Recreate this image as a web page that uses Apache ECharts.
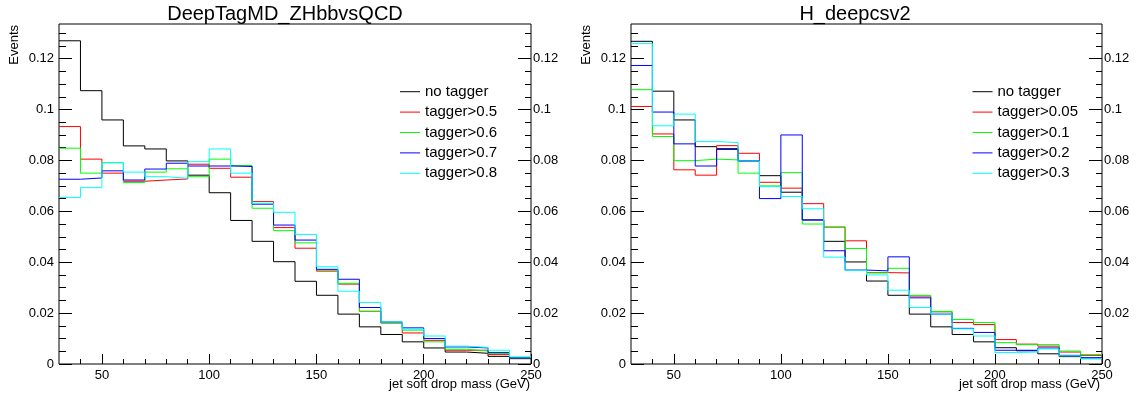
<!DOCTYPE html>
<html><head><meta charset="utf-8">
<script src="https://cdn.jsdelivr.net/npm/echarts@6/dist/echarts.min.js"></script>
<style>html,body{margin:0;padding:0;background:#fff}#c{width:1140px;height:394px}</style>
</head><body><div id="c"></div>
<script>
// ---- data ----
const binEdges = [30,40,50,60,70,80,90,100,110,120,130,140,150,160,170,180,190,200,210,220,230,240,250];

const titleLeft = 'DeepTagMD_ZHbbvsQCD';
const titleRight = 'H_deepcsv2';
const xTitle = 'jet soft drop mass (GeV)';
const yTitle = 'Events';

const namesLeft = ['no tagger','tagger>0.5','tagger>0.6','tagger>0.7','tagger>0.8'];
const namesRight = ['no tagger','tagger>0.05','tagger>0.1','tagger>0.2','tagger>0.3'];
const seriesColors = ['#000000','#ff0000','#00ff00','#0000ff','#00ffff'];

// left panel (DeepTagMD_ZHbbvsQCD)
const noTaggerL = [0.1270,0.1074,0.0959,0.0857,0.0845,0.0798,0.0742,0.0673,0.0564,0.0482,0.0402,0.0325,0.0270,0.0196,0.0146,0.0116,0.0087,0.0063,0.0047,0.0042,0.0030,0.0021];
const tag05L   = [0.0933,0.0805,0.0750,0.0718,0.0723,0.0727,0.0785,0.0769,0.0734,0.0638,0.0536,0.0455,0.0365,0.0314,0.0207,0.0161,0.0122,0.0093,0.0054,0.0054,0.0037,0.0024];
const tag06L   = [0.0848,0.0750,0.0791,0.0713,0.0754,0.0767,0.0736,0.0805,0.0780,0.0612,0.0524,0.0476,0.0369,0.0317,0.0207,0.0161,0.0133,0.0087,0.0058,0.0051,0.0041,0.0024];
const tag07L   = [0.0726,0.0731,0.0759,0.0723,0.0766,0.0789,0.0778,0.0778,0.0776,0.0628,0.0546,0.0487,0.0372,0.0333,0.0222,0.0165,0.0142,0.0100,0.0067,0.0063,0.0045,0.0024];
const tag08L   = [0.0654,0.0693,0.0791,0.0754,0.0736,0.0730,0.0795,0.0845,0.0750,0.0631,0.0596,0.0509,0.0382,0.0286,0.0242,0.0165,0.0137,0.0110,0.0070,0.0065,0.0054,0.0028];

// right panel (H_deepcsv2)
const noTaggerR = [0.1268,0.1072,0.0959,0.0854,0.0846,0.0798,0.0740,0.0675,0.0566,0.0482,0.0401,0.0326,0.0270,0.0196,0.0146,0.0116,0.0087,0.0064,0.0052,0.0040,0.0029,0.0021];
const tag005R  = [0.1012,0.0904,0.0763,0.0742,0.0858,0.0828,0.0714,0.0691,0.0630,0.0538,0.0484,0.0359,0.0358,0.0267,0.0205,0.0163,0.0155,0.0096,0.0078,0.0070,0.0047,0.0034];
const tag01R   = [0.1078,0.0894,0.0799,0.0805,0.0802,0.0750,0.0700,0.0752,0.0550,0.0538,0.0454,0.0358,0.0376,0.0270,0.0207,0.0175,0.0163,0.0084,0.0076,0.0076,0.0051,0.0037];
const tag02R   = [0.1173,0.0990,0.0865,0.0778,0.0843,0.0798,0.0650,0.0900,0.0566,0.0445,0.0369,0.0366,0.0421,0.0260,0.0196,0.0140,0.0124,0.0054,0.0054,0.0063,0.0034,0.0025];
const tag03R   = [0.1259,0.0936,0.0982,0.0874,0.0870,0.0798,0.0697,0.0658,0.0610,0.0420,0.0368,0.0350,0.0290,0.0222,0.0196,0.0138,0.0110,0.0045,0.0047,0.0059,0.0032,0.0021];

const xMajorTicks = [50,100,150,200,250];
const xMinorTicks = [40,60,70,80,90,110,120,130,140,160,170,180,190,210,220,230,240];
const yMajorTicks = [0,0.02,0.04,0.06,0.08,0.1,0.12];
const yMinorTicks = [0.005,0.01,0.015,0.025,0.03,0.035,0.045,0.05,0.055,0.065,0.07,0.075,0.085,0.09,0.095,0.105,0.11,0.115,0.125,0.13];

const xMin = 30, xMax = 250, yMax = 0.1336;

// ---- build ----
const FONT = 'Liberation Sans, Arial, Helvetica, sans-serif';
function hist(vals){
  const d = vals.map((v,i)=>[binEdges[i], v]);
  d.push([binEdges[binEdges.length-1], vals[vals.length-1]]);
  return d;
}
const grids = [
  {left:59, top:24, width:472, height:340},
  {left:631, top:24, width:471, height:340}
];
const xAxes = [], yAxes = [];
grids.forEach((g,gi)=>{
  xAxes.push({gridIndex:gi, type:'value', min:xMin, max:xMax, position:'bottom',
    axisLine:{show:false}, splitLine:{show:false},
    axisTick:{show:true, inside:true, length:10, customValues:xMajorTicks, lineStyle:{color:'#000',width:1}},
    axisLabel:{show:true, customValues:xMajorTicks, color:'#000', fontSize:13, fontFamily:FONT, margin:5}});
  xAxes.push({gridIndex:gi, type:'value', min:xMin, max:xMax, position:'bottom',
    axisLine:{show:false}, splitLine:{show:false},
    axisTick:{show:true, inside:true, length:5, customValues:xMinorTicks, lineStyle:{color:'#000',width:1}},
    axisLabel:{show:false}});
  const fmt = v => String(+(+v).toFixed(4));
  yAxes.push({gridIndex:gi, type:'value', min:0, max:yMax, position:'left',
    axisLine:{show:false}, splitLine:{show:false},
    axisTick:{show:true, inside:true, length:13, customValues:yMajorTicks, lineStyle:{color:'#000',width:1}},
    axisLabel:{show:true, customValues:yMajorTicks, formatter:fmt, color:'#000', fontSize:13, fontFamily:FONT, margin:5}});
  yAxes.push({gridIndex:gi, type:'value', min:0, max:yMax, position:'left',
    axisLine:{show:false}, splitLine:{show:false},
    axisTick:{show:true, inside:true, length:7, customValues:yMinorTicks, lineStyle:{color:'#000',width:1}},
    axisLabel:{show:false}});
  yAxes.push({gridIndex:gi, type:'value', min:0, max:yMax, position:'right',
    axisLine:{show:false}, splitLine:{show:false},
    axisTick:{show:true, inside:true, length:13, customValues:yMajorTicks, lineStyle:{color:'#000',width:1}},
    axisLabel:{show:true, customValues:yMajorTicks, formatter:fmt, color:'#000', fontSize:13, fontFamily:FONT, margin:2}});
  yAxes.push({gridIndex:gi, type:'value', min:0, max:yMax, position:'right',
    axisLine:{show:false}, splitLine:{show:false},
    axisTick:{show:true, inside:true, length:6, customValues:yMinorTicks, lineStyle:{color:'#000',width:1}},
    axisLabel:{show:false}});
});

const panels = [
  {names:namesLeft, vals:[noTaggerL,tag05L,tag06L,tag07L,tag08L]},
  {names:namesRight, vals:[noTaggerR,tag005R,tag01R,tag02R,tag03R]}
];
const series = [];
panels.forEach((p,gi)=>{
  p.vals.forEach((v,k)=>{
    series.push({type:'line', name:p.names[k], xAxisIndex:gi*2, yAxisIndex:gi*4,
      step:'end', showSymbol:false, symbol:'none', color:seriesColors[k],
      lineStyle:{color:seriesColors[k], width:1}, data:hist(v), z:2+k, silent:true});
  });
});

const legendCommon = {orient:'vertical', top:81.5, itemWidth:20, itemHeight:1, icon:'rect',
  itemGap:0, padding:0, textStyle:{fontSize:15, lineHeight:20.4, color:'#000', fontFamily:FONT}};

const option = {
  animation:false,
  backgroundColor:'#fff',
  grid: grids.map(g=>Object.assign({show:true, borderColor:'#000', borderWidth:1, backgroundColor:'transparent', containLabel:false}, g)),
  xAxis: xAxes,
  yAxis: yAxes,
  legend: [
    Object.assign({left:400, data:namesLeft}, legendCommon),
    Object.assign({left:972.5, data:namesRight}, legendCommon)
  ],
  graphic: [
    {type:'text', x:285, y:14, style:{text:titleLeft, font:'20px '+FONT, fill:'#000', align:'center', verticalAlign:'middle'}},
    {type:'text', x:855, y:14, style:{text:titleRight, font:'20px '+FONT, fill:'#000', align:'center', verticalAlign:'middle'}},
    {type:'text', x:530, y:384, style:{text:xTitle, font:'13px '+FONT, fill:'#000', align:'right', verticalAlign:'middle'}},
    {type:'text', x:1100, y:384, style:{text:xTitle, font:'13px '+FONT, fill:'#000', align:'right', verticalAlign:'middle'}},
    {type:'text', x:14, y:25, rotation:Math.PI/2, style:{text:yTitle, font:'13px '+FONT, fill:'#000', align:'right', verticalAlign:'middle'}},
    {type:'text', x:586, y:25, rotation:Math.PI/2, style:{text:yTitle, font:'13px '+FONT, fill:'#000', align:'right', verticalAlign:'middle'}}
  ],
  series: series
};
const chart = echarts.init(document.getElementById('c'));
chart.setOption(option);
</script>
</body></html>
